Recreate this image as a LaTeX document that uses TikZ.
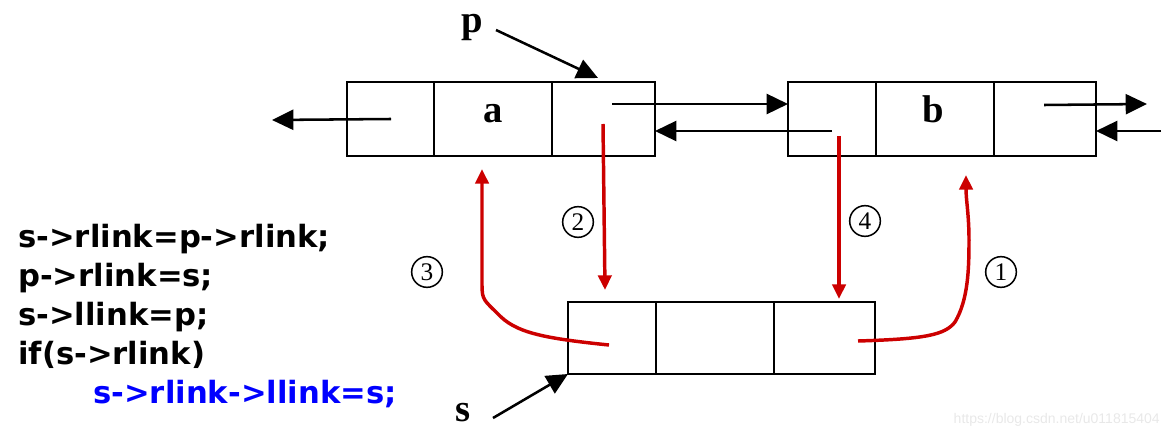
\documentclass[tikz,border=0pt]{standalone}
\usepackage{fontspec}
\setmainfont{Liberation Serif}
\newfontfamily\codefont{DejaVu Sans}
\newfontfamily\wmfont{Liberation Sans}
\usetikzlibrary{arrows.meta}
\definecolor{lnkred}{RGB}{204,0,0}
\definecolor{codeblue}{RGB}{0,0,255}
\tikzset{
  cell/.style={draw, line width=2.1pt, inner sep=0pt, outer sep=0pt},
  ptr/.style={line width=1.9pt, -{Triangle[length=16pt,width=15pt]}},
  redptr/.style={draw=lnkred, line width=2.6pt, -{Triangle[length=11pt,width=10pt]}, lnkred},
  lbl/.style={font=\fontsize{29}{32}\selectfont\bfseries, anchor=base, inner sep=0pt},
  circ/.style={circle, draw, line width=1.15pt, minimum size=23pt, inner sep=0pt,
    font=\fontsize{19}{21}\selectfont},
  code/.style={font=\codefont\bfseries\fontsize{23}{26}\selectfont, anchor=base west, inner sep=0pt}
}
\begin{document}
\begin{tikzpicture}[x=0.75pt,y=-0.75pt]
\useasboundingbox (0,0) rectangle (1169,438);
% node a
\node[cell, minimum width=65.25pt, minimum height=55.5pt] (aL) at (390.5,119) {};
\node[cell, minimum width=88.5pt, minimum height=55.5pt] (aM) at (493,119) {};
\node[cell, minimum width=77.25pt, minimum height=55.5pt] (aR) at (603.5,119) {};
% node b
\node[cell, minimum width=66pt, minimum height=55.5pt] (bL) at (832,119) {};
\node[cell, minimum width=88.5pt, minimum height=55.5pt] (bM) at (935,119) {};
\node[cell, minimum width=76.5pt, minimum height=55.5pt] (bR) at (1045,119) {};
% node s
\node[cell, minimum width=66pt, minimum height=54pt] (sL) at (612,338) {};
\node[cell, minimum width=88.5pt, minimum height=54pt] (sM) at (715,338) {};
\node[cell, minimum width=75.75pt, minimum height=54pt] (sR) at (824.5,338) {};
% labels
\node[lbl] (la) at (493,123) {a};
\node[lbl] (lb) at (933,123) {b};
\node[lbl] (lp) at (472,33) {p};
\node[lbl] (ls) at (463,421) {s};
% black pointers
\coordinate (aLo) at (391,119);
\coordinate (aLe) at (272,120);
\draw[ptr] (aLo) -- (aLe);
\coordinate (abo) at (612,104);
\draw[ptr] (abo) -- (abo -| bL.west);
\coordinate (bao) at (832,131);
\draw[ptr] (bao) -- (bao -| aR.east);
\coordinate (bno) at (1044,105);
\coordinate (bne) at (1147,104);
\draw[ptr] (bno) -- (bne);
\coordinate (ino) at (1161,131);
\draw[ptr] (ino) -- (ino -| bR.east);
\coordinate (po) at (496,30);
\coordinate (pe) at (598,78);
\draw[ptr] (po) -- (pe);
\coordinate (so) at (493,418);
\draw[ptr] (so) -- (sL.south west);
% red pointers
\coordinate (r2o) at (603,124);
\coordinate (r2e) at (605,290);
\draw[redptr] (r2o) -- (r2e);
\coordinate (r4o) at (839,136);
\coordinate (r4e) at (839,299);
\draw[redptr] (r4o) -- (r4e);
\coordinate (r3o) at (609,345);
\coordinate (r3e) at (482,169);
\draw[redptr] (r3o) .. controls (540,338) and (515,332) .. (498,314)
  .. controls (484,300) and (482,300) .. (482,285) -- (r3e);
\coordinate (r1o) at (858,341);
\coordinate (r1e) at (966,175);
\draw[redptr] (r1o) .. controls (925,339) and (945,335) .. (955,322)
  .. controls (968,300) and (969,270) .. (969,240) .. controls (969,215) and (966,200) .. (r1e);
% circled numbers
\node[circ] (c1) at (1001,272) {1};
\node[circ] (c2) at (578,222) {2};
\node[circ] (c3) at (427,272) {3};
\node[circ] (c4) at (865,221) {4};
% code
\node[code] (l1) at (18,247) {s->rlink=p->rlink;};
\node[code] (l2) at (18,286) {p->rlink=s;};
\node[code] (l3) at (18,325) {s->llink=p;};
\node[code] (l4) at (18,364) {if(s->rlink)};
\node[code, text=codeblue] (l5) at (93,403) {s->rlink->llink=s;};
% watermark
\node[font=\wmfont\fontsize{10.5}{12}\selectfont, text=black!9, anchor=base east, inner sep=0pt] (wm) at (1160,423) {https://blog.csdn.net/u011815404};
\end{tikzpicture}
\end{document}
